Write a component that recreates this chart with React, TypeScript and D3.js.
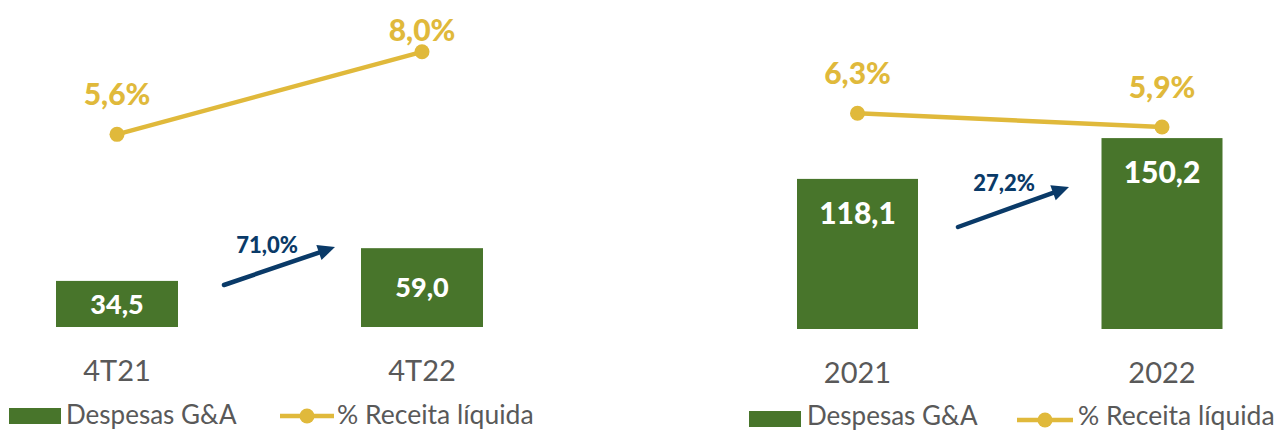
import React from 'react';
import * as d3 from 'd3';

// ---- data ----
const quarterCats = ['4T21', '4T22'];
const quarterExpenses = [34.5, 59.0];
const quarterPct = [5.6, 8.0];
const quarterGrowth = '71,0%';

const yearCats = ['2021', '2022'];
const yearExpenses = [118.1, 150.2];
const yearPct = [6.3, 5.9];
const yearGrowth = '27,2%';

const legendBar = 'Despesas G&A';
const legendLine = '% Receita líquida';

// ---- style ----
const GREEN = '#48752B';
const YELLOW = '#E0B93B';
const NAVY = '#0A3A68';
const GRAY = '#595959';
const BOLD = 'Lato, "Open Sans", sans-serif';
const REG = 'Lato, "Open Sans", sans-serif';

const fmt1 = (v: number) => d3.format('.1f')(v).replace('.', ',');

type PanelCfg = {
  cats: string[];
  bars: number[];
  pct: number[];
  growth: string;
  xRange: [number, number];
  base: number;
  pxPerUnit: number;
  pctBase: number;
  barW: number;
  barLabelSize: number;
  barLabelMode: 'center' | 'top';
  catBaseline: number;
  arrow: { x1: number; y1: number; x2: number; y2: number; lx: number; ly: number };
  legend: { rx: number; ry: number; tx: number; ty: number; lx1: number; lx2: number; ly: number; l2x: number };
};

const panels: PanelCfg[] = [
  {
    cats: quarterCats,
    bars: quarterExpenses,
    pct: quarterPct,
    growth: quarterGrowth,
    xRange: [117, 422],
    base: 327,
    pxPerUnit: 1.336,
    pctBase: 327,
    barW: 122,
    barLabelSize: 27,
    barLabelMode: 'center',
    catBaseline: 381,
    arrow: { x1: 224, y1: 285, x2: 335, y2: 247, lx: 267, ly: 253 },
    legend: { rx: 9, ry: 408, tx: 66, ty: 424, lx1: 280, lx2: 334, ly: 416, l2x: 337 },
  },
  {
    cats: yearCats,
    bars: yearExpenses,
    pct: yearPct,
    growth: yearGrowth,
    xRange: [857.5, 1162],
    base: 329,
    pxPerUnit: 1.271,
    pctBase: 330,
    barW: 121,
    barLabelSize: 30,
    barLabelMode: 'top',
    catBaseline: 383,
    arrow: { x1: 958, y1: 227, x2: 1069, y2: 187, lx: 1004, ly: 191 },
    legend: { rx: 749, ry: 411, tx: 807, ty: 424.5, lx1: 1017, lx2: 1073, ly: 420, l2x: 1078 },
  },
];

function Panel({ cfg }: { cfg: PanelCfg }) {
  const x = d3.scalePoint<string>().domain(cfg.cats).range(cfg.xRange);
  const y = d3
    .scaleLinear()
    .domain([0, 100])
    .range([cfg.base, cfg.base - 100 * cfg.pxPerUnit]);
  const yp = d3
    .scaleLinear()
    .domain([0, 10])
    .range([cfg.pctBase, cfg.pctBase - 344]);
  const line = d3
    .line<number>()
    .x((_, i) => x(cfg.cats[i]) as number)
    .y((d) => yp(d));

  const a = cfg.arrow;
  const ang = Math.atan2(a.y2 - a.y1, a.x2 - a.x1);
  const headLen = 17;
  const headW = 8;
  const bx = a.x2 - headLen * Math.cos(ang);
  const by = a.y2 - headLen * Math.sin(ang);
  const px = -Math.sin(ang) * headW;
  const py = Math.cos(ang) * headW;
  const head = `M${a.x2},${a.y2} L${bx + px},${by + py} L${bx - px},${by - py} Z`;

  const L = cfg.legend;
  return (
    <g>
      {cfg.bars.map((v, i) => {
        const cx = x(cfg.cats[i]) as number;
        const top = y(v);
        const h = cfg.base - top;
        const ly =
          cfg.barLabelMode === 'center'
            ? top + h / 2 + cfg.barLabelSize * 0.36
            : top + 45;
        return (
          <g key={cfg.cats[i]}>
            <rect x={cx - cfg.barW / 2} y={top} width={cfg.barW} height={h} fill={GREEN} />
            <text
              x={cx}
              y={ly}
              textAnchor="middle"
              fill="#fff"
              fontFamily={BOLD}
              fontWeight={900}
              fontSize={cfg.barLabelSize}
            >
              {fmt1(v)}
            </text>
            <text
              x={cx}
              y={cfg.catBaseline}
              textAnchor="middle"
              fill={GRAY}
              fontFamily={REG}
              fontSize={29}
            >
              {cfg.cats[i]}
            </text>
          </g>
        );
      })}
      <path d={line(cfg.pct) || ''} fill="none" stroke={YELLOW} strokeWidth={4.5} />
      {cfg.pct.map((p, i) => {
        const cx = x(cfg.cats[i]) as number;
        const cy = yp(p);
        return (
          <g key={'p' + i}>
            <circle cx={cx} cy={cy} r={7.5} fill={YELLOW} />
            <text
              x={cx}
              y={Math.max(cy - 29, 41)}
              textAnchor="middle"
              fill={YELLOW}
              fontFamily={BOLD}
              fontWeight={900}
              fontSize={30}
            >
              {fmt1(p) + '%'}
            </text>
          </g>
        );
      })}
      <line x1={a.x1} y1={a.y1} x2={bx} y2={by} stroke={NAVY} strokeWidth={4.5} strokeLinecap="round" />
      <path d={head} fill={NAVY} />
      <text
        x={a.lx}
        y={a.ly}
        textAnchor="middle"
        fill={NAVY}
        fontFamily={BOLD}
        fontWeight={900}
        fontSize={22}
      >
        {cfg.growth}
      </text>
      <rect x={L.rx} y={L.ry} width={52} height={16} fill={GREEN} />
      <text x={L.tx} y={L.ty} fill={GRAY} fontFamily={REG} fontSize={26}>
        {legendBar}
      </text>
      <line x1={L.lx1} y1={L.ly} x2={L.lx2} y2={L.ly} stroke={YELLOW} strokeWidth={4.5} />
      <circle cx={(L.lx1 + L.lx2) / 2} cy={L.ly} r={7.5} fill={YELLOW} />
      <text x={L.l2x} y={L.ty} fill={GRAY} fontFamily={REG} fontSize={26.5}>
        {legendLine}
      </text>
    </g>
  );
}

export default function App() {
  return (
    <svg
      width={1280}
      height={430}
      viewBox="0 0 1280 430"
      style={{ position: 'absolute', left: 0, top: 0, background: '#fff' }}
    >
      {panels.map((p, i) => (
        <Panel key={i} cfg={p} />
      ))}
    </svg>
  );
}
